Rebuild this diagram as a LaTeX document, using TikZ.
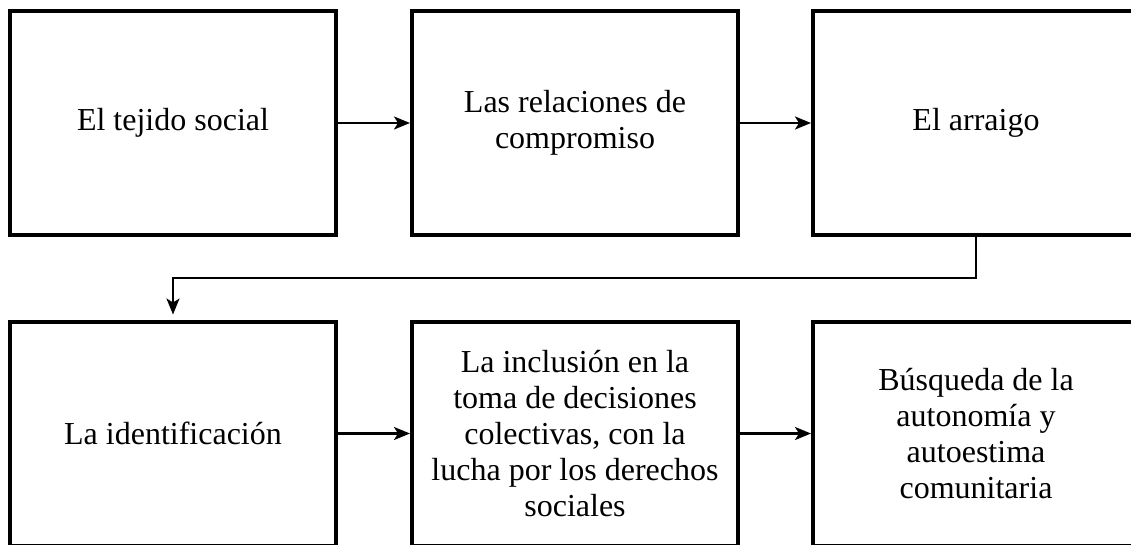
\documentclass[tikz,border=0pt]{standalone}
\usepackage{fontspec}
\setmainfont{Liberation Serif}
\usetikzlibrary{arrows.meta}
\tikzset{
  stepbox/.style={draw=black, line width=4pt, minimum width=326pt, minimum height=224pt,
    align=center, inner sep=0pt, font=\fontsize{32pt}{36pt}\selectfont},
  conn/.style={line width=2.2pt, -{Stealth[length=16pt,width=13pt,inset=4pt]}}
}
\begin{document}
\begin{tikzpicture}[x=1pt,y=1pt]
\useasboundingbox (0,0) rectangle (1131,-544);
\clip (0,0) rectangle (1131,-544);
\node[stepbox] (b1) at (173,-123) {El tejido social};
\node[stepbox] (b2) at (575,-123) {Las relaciones de\\compromiso};
\node[stepbox] (b3) at (976,-123) {El arraigo};
\node[stepbox] (b4) at (173,-433.5) {La identificación};
\node[stepbox] (b5) at (575,-433.5) {La inclusión en la\\toma de decisiones\\colectivas, con la\\lucha por los derechos\\sociales};
\node[stepbox] (b6) at (976,-433.5) {Búsqueda de la\\autonomía y\\autoestima\\comunitaria};
\draw[conn] (b1) -- (b2);
\draw[conn] (b2) -- (b3);
\draw[conn] (b4) -- (b5);
\draw[conn] (b5) -- (b6);
\draw[conn, shorten >=5pt] (b3.south) -- ++(0,-41) -| (b4.north);
\end{tikzpicture}
\end{document}
